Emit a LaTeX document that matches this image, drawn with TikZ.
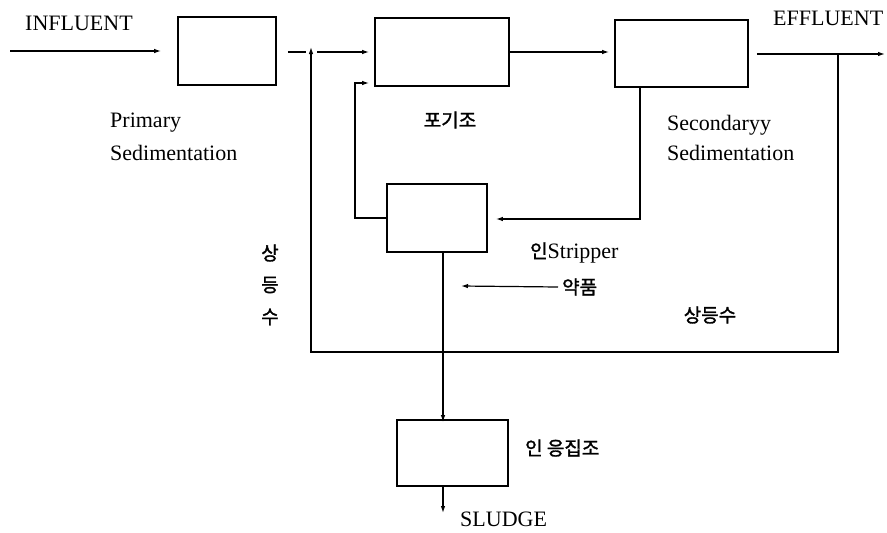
\documentclass[tikz,border=0pt]{standalone}
\usepackage{fontspec}
\setmainfont{Liberation Serif}
\newfontfamily\kr{Noto Sans CJK KR}[FakeBold=1.5]
\usetikzlibrary{arrows.meta}
\begin{document}
\begin{tikzpicture}[x=1pt,y=-1pt,
  box/.style={draw,line width=1.8pt,rectangle,inner sep=0pt},
  conn/.style={line width=1.2pt},
  arr/.style={line width=1.2pt,-{Latex[length=7pt,width=4.5pt]}},
  lbl/.style={inner sep=0pt,font=\fontsize{22}{26}\selectfont},
  klbl/.style={inner sep=0pt,font=\fontsize{19}{22}\selectfont\kr}]
\useasboundingbox[fill=white] (0,0) rectangle (887,533);
% boxes
\node[box,minimum width=98pt,minimum height=68pt] (prim) at (227,51) {};
\node[box,minimum width=134pt,minimum height=68pt] (aer) at (442,52) {};
\node[box,minimum width=133pt,minimum height=67pt] (sec) at (681.5,53.5) {};
\node[box,minimum width=100pt,minimum height=68pt] (strip) at (437,218) {};
\node[box,minimum width=111pt,minimum height=66pt] (prec) at (452.5,453) {};
% coordinates
\coordinate (inS) at (10,51);
\coordinate (j) at (311,52);
\coordinate (bl) at (311,352);
\coordinate (br) at (838,352);
\coordinate (eff) at (838,54);
\coordinate (effE) at (885,54);
\coordinate (sr) at (640,219);
\coordinate (ul) at (355,83);
\coordinate (cx) at (443,0);
\coordinate (sludge) at (443,513);
\coordinate (chemT) at (461,286);
% labels
\node[lbl,anchor=base west] (lin) at (25,30) {INFLUENT};
\node[lbl,anchor=base west] (leff) at (773,25) {EFFLUENT};
\node[lbl,anchor=base west] (lp1) at (110,127) {Primary};
\node[lbl,anchor=base west] (lp2) at (110,160) {Sedimentation};
\node[klbl] (laer) at (450,120) {포기조};
\node[lbl,anchor=base west] (ls1) at (667,130) {Secondaryy};
\node[lbl,anchor=base west] (ls2) at (667,160) {Sedimentation};
\node[lbl,anchor=base west] (lst) at (530,258) {{\kr\fontsize{19}{22}\selectfont 인}Stripper};
\node[klbl,anchor=west] (chem) at (562,287) {약품};
\node[klbl] (v1) at (270,253) {상};
\node[klbl] (v2) at (270,285) {등};
\node[klbl] (v3) at (270,317) {수};
\node[klbl] (lsup) at (710,315) {상등수};
\node[klbl,anchor=west] (lprec) at (525,448) {인 응집조};
\node[lbl,anchor=base west] (lsl) at (460,526) {SLUDGE};
% connectors
\draw[arr] (inS) -- ([xshift=-16pt]prim.west);
\draw[conn] ([xshift=11pt]prim.east |- j) -- ([xshift=-5pt]j);
\draw[arr] ([xshift=6pt]j) -- ([xshift=-5pt]aer.west |- j);
\draw[arr] (eff) -- (br) -- (bl) -- ([yshift=5pt]j);
\draw[arr] (aer.east) -- ([xshift=-5pt]sec.west |- aer.east);
\draw[arr] ([xshift=8pt]sec.east |- eff) -- (effE);
\draw[arr] (sec.south -| sr) -- (sr) -- ([xshift=8pt]strip.east |- sr);
\draw[arr] (strip.west) -- (strip.west -| ul) -- (ul) -- ([xshift=-5pt]aer.west |- ul);
\draw[arr] (strip.south -| cx) -- ([yshift=-3pt]prec.north -| cx);
\draw[arr] (prec.south -| cx) -- (sludge);
\draw[arr] ([xshift=-4pt]chem.west) -- (chemT);
\end{tikzpicture}
\end{document}
